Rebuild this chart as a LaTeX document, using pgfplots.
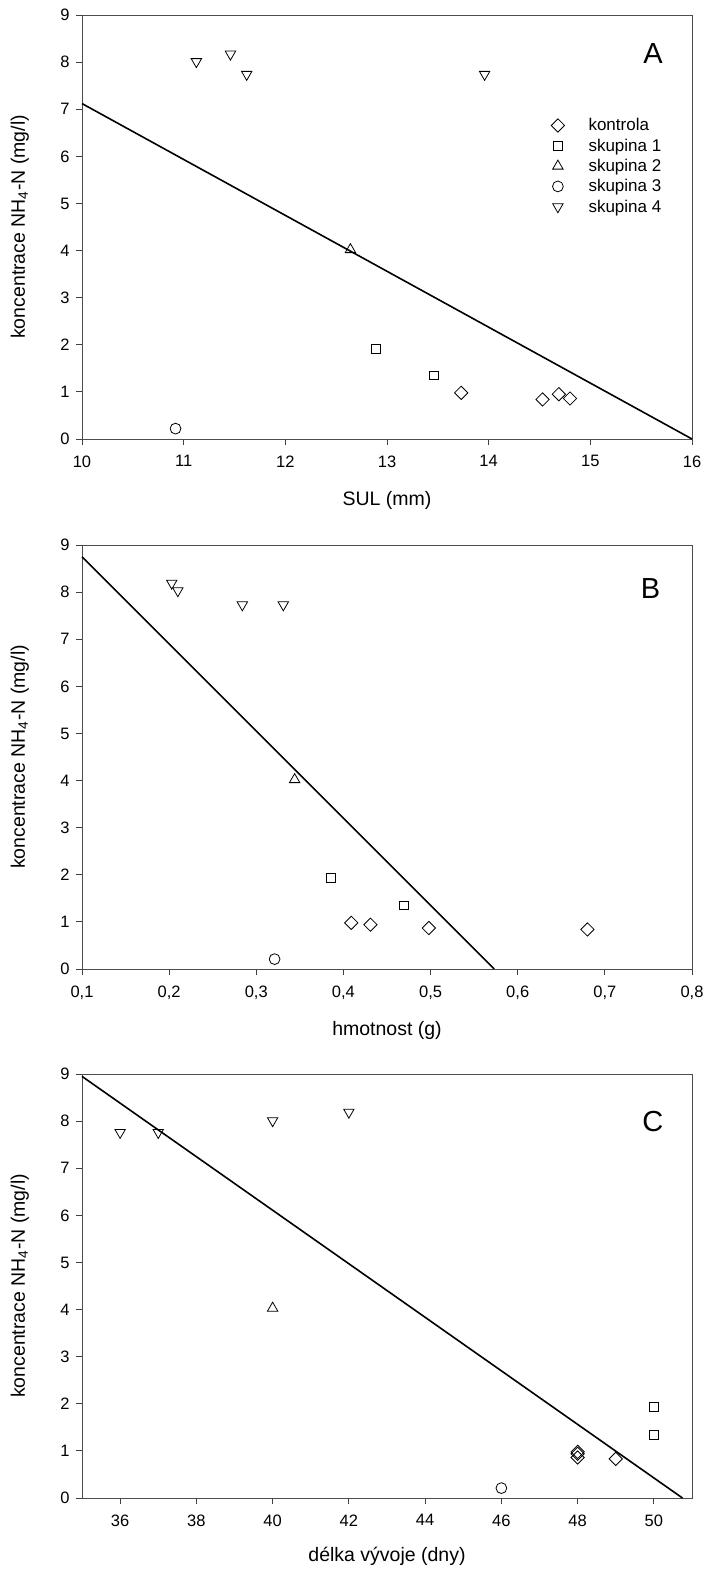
\documentclass[border=0pt]{standalone}
\usepackage{fontspec}
\setmainfont{Liberation Sans}
\usepackage{pgfplots}
\pgfplotsset{compat=1.18}

\pgfplotsset{
  panel/.style={
    scale only axis, width=610pt, height=424pt, anchor=north west,
    ymin=0, ymax=9, ytick={0,1,2,3,4,5,6,7,8,9},
    tick align=outside, xtick pos=left, ytick pos=left, major tick length=6pt,
    tick style={line width=0.8pt, color=black!75},
    axis line style={line width=0.8pt, color=black!70},
    tick label style={font=\fontsize{16.5}{16.5}\selectfont},
    xticklabel style={yshift=-7pt},
    yticklabel style={xshift=-3pt},
    /pgf/number format/assume math mode=true,
    label style={font=\fontsize{19.5}{19.5}\selectfont},
    ylabel={koncentrace NH\textsubscript{4}-N (mg/l)},
    ylabel style={at={(axis description cs:-0.102,0.5)}, anchor=center},
    xlabel style={at={(axis description cs:0.5,-0.146)}, anchor=center},
    clip=false,
  },
  kon/.style={only marks, mark=square, mark size=4.7pt, mark options={rotate=45, line width=0.8pt, draw=black}},
  sk1/.style={only marks, mark=square, mark size=4.4pt, mark options={line width=0.8pt, draw=black}},
  sk2/.style={only marks, mark=triangle, mark size=6pt, mark options={line width=0.8pt, draw=black}},
  sk3/.style={only marks, mark=o, mark size=5.4pt, mark options={line width=0.8pt, draw=black}},
  sk4/.style={only marks, mark=triangle, mark size=6pt, mark options={rotate=180, line width=0.8pt, draw=black}},
  regr/.style={black, line width=1.6pt, forget plot},
}

\begin{document}
\begin{tikzpicture}
\useasboundingbox (0pt,0pt) rectangle (705pt,-1573pt);

% ---------------- Panel A ----------------
\begin{axis}[panel, at={(82pt,-15pt)},
  xmin=10, xmax=16, xtick={10,11,12,13,14,15,16},
  xlabel={SUL (mm)},
  legend style={draw=none, fill=none, at={(rel axis cs:0.764,0.768)}, anchor=north west,
    font=\fontsize{17}{17}\selectfont, row sep=0.5pt,
    nodes={inner sep=3pt}},
  legend cell align=left]
\addplot[regr] coordinates {(10,7.12) (16,0)};
\addplot[kon] coordinates {(13.73,0.98) (14.53,0.84) (14.69,0.95) (14.80,0.86)};
\addlegendentry{\hspace{21pt}kontrola}
\addplot[sk1] coordinates {(12.89,1.92) (13.46,1.35)};
\addlegendentry{\hspace{21pt}skupina 1}
\addplot[sk2] coordinates {(12.64,4.02)};
\addlegendentry{\hspace{21pt}skupina 2}
\addplot[sk3] coordinates {(10.92,0.22)};
\addlegendentry{\hspace{21pt}skupina 3}
\addplot[sk4] coordinates {(11.125,8.01) (11.46,8.17) (11.62,7.74) (13.96,7.74)};
\addlegendentry{\hspace{21pt}skupina 4}
\node[font=\fontsize{29}{29}\selectfont] at (rel axis cs:0.936,0.909) {A};
\end{axis}

% ---------------- Panel B ----------------
\begin{axis}[panel, at={(82pt,-545pt)},
  xmin=0.1, xmax=0.8, xtick={0.1,0.2,0.3,0.4,0.5,0.6,0.7,0.8},
  xticklabel style={/pgf/number format/.cd, use comma, fixed, fixed zerofill, precision=1},
  xlabel={hmotnost (g)}]
\addplot[regr] coordinates {(0.1,8.75) (0.573,0)};
\addplot[kon] coordinates {(0.409,0.98) (0.431,0.94) (0.498,0.87) (0.680,0.84)};
\addplot[sk1] coordinates {(0.386,1.93) (0.469,1.35)};
\addplot[sk2] coordinates {(0.344,4.02)};
\addplot[sk3] coordinates {(0.321,0.21)};
\addplot[sk4] coordinates {(0.203,8.19) (0.210,8.03) (0.284,7.73) (0.331,7.73)};
\node[font=\fontsize{29}{29}\selectfont] at (rel axis cs:0.932,0.898) {B};
\end{axis}

% ---------------- Panel C ----------------
\begin{axis}[panel, at={(82pt,-1074pt)},
  xmin=35, xmax=51, xtick={36,38,40,42,44,46,48,50},
  xlabel={délka vývoje (dny)},
  xlabel style={at={(axis description cs:0.5,-0.137)}}]
\addplot[regr] coordinates {(35,8.95) (50.75,0)};
\addplot[kon] coordinates {(48,0.98) (48,0.94) (48,0.86) (49,0.83)};
\addplot[sk1] coordinates {(50,1.93) (50,1.34)};
\addplot[sk2] coordinates {(40,4.03)};
\addplot[sk3] coordinates {(46,0.21)};
\addplot[sk4] coordinates {(36,7.76) (37,7.76) (40,8.01) (42,8.19)};
\node[font=\fontsize{29}{29}\selectfont] at (rel axis cs:0.936,0.889) {C};
\end{axis}
\end{tikzpicture}
\end{document}
